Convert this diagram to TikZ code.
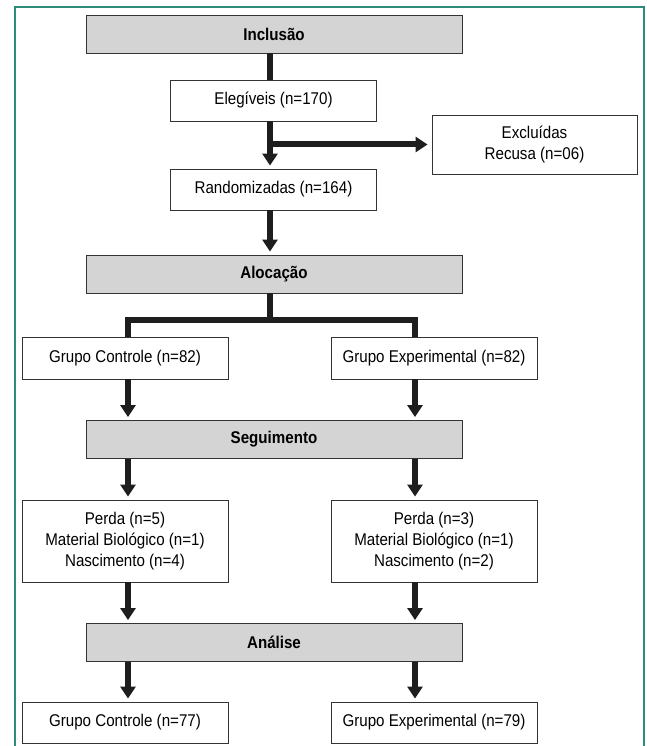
\documentclass[tikz,border=0pt]{standalone}
\usepackage{fontspec}
\setmainfont{Liberation Sans}[FakeStretch=0.89]
\usetikzlibrary{arrows.meta, positioning, calc}
\definecolor{frameteal}{RGB}{46, 139, 122}
\definecolor{stagegray}{RGB}{212, 212, 212}
\definecolor{flowblack}{RGB}{30, 30, 30}

\begin{document}
\begin{tikzpicture}[x=1pt, y=-1pt,
  stage/.style={draw=black!80, fill=stagegray, line width=0.9pt, minimum width=376pt, minimum height=38pt, inner sep=0pt, font=\fontsize{17}{21}\selectfont\bfseries},
  box/.style={draw=black!80, fill=white, line width=0.9pt, minimum width=206pt, minimum height=42pt, inner sep=0pt, align=center, font=\fontsize{17}{21}\selectfont},
  flow/.style={line width=6pt, flowblack, -{Triangle[width=15pt, length=12pt]}, shorten >=3pt},
  bar/.style={line width=6pt, flowblack}]
  \useasboundingbox (0, 0) rectangle (646, 746);

  % Open frame
  \draw[frameteal, line width=2pt] (15, 746) -- (15, 7) -- (644, 7) -- (644, 746);

  % Columns of the connectors
  \coordinate (mid) at (270, 0);
  \coordinate (lcol) at (128, 0);
  \coordinate (rcol) at (415, 0);
  \coordinate (fork) at (270, 320);

  % Inclusion
  \node[stage] (incl) at (274, 34) {Inclusão};
  \node[box, minimum height=41pt] (eleg) at (273.5, 100.5) {Elegíveis (n=170)};
  \node[box, minimum width=205pt, minimum height=59pt] (excl) at (534.5, 144.5) {Excluídas\\Recusa (n=06)};
  \node[box, minimum height=41pt] (rand) at (273.5, 189.5) {Randomizadas (n=164)};

  % Allocation
  \node[stage] (aloc) at (274, 274) {Alocação};
  \node[box] (gc1) at (125, 358) {Grupo Controle (n=82)};
  \node[box] (ge1) at (434, 358) {Grupo Experimental (n=82)};

  % Follow-up
  \node[stage] (seg) at (274, 439.5) {Seguimento};
  \node[box, minimum height=82pt] (pl) at (125, 541) {Perda (n=5)\\Material Biológico (n=1)\\Nascimento (n=4)};
  \node[box, minimum height=82pt] (pr) at (434, 541) {Perda (n=3)\\Material Biológico (n=1)\\Nascimento (n=2)};

  % Analysis
  \node[stage] (ana) at (274, 642.5) {Análise};
  \node[box, minimum height=41pt] (gc2) at (125, 722.5) {Grupo Controle (n=77)};
  \node[box, minimum height=41pt] (ge2) at (434, 722.5) {Grupo Experimental (n=79)};

  % Connectors
  \draw[bar] (incl.south -| mid) -- (eleg.north -| mid);
  \draw[flow] (eleg.south -| mid) -- (rand.north -| mid);
  \draw[flow, shorten >=4pt] (mid |- excl.west) -- (excl.west);
  \draw[flow] (rand.south -| mid) -- (aloc.north -| mid);

  \draw[bar] (aloc.south -| fork) -- (fork);
  \draw[bar] (gc1.north -| lcol) |- (fork) -| (ge1.north -| rcol);

  \draw[flow] (gc1.south -| lcol) -- (seg.north -| lcol);
  \draw[flow] (ge1.south -| rcol) -- (seg.north -| rcol);
  \draw[flow] (seg.south -| lcol) -- (pl.north -| lcol);
  \draw[flow] (seg.south -| rcol) -- (pr.north -| rcol);
  \draw[flow] (pl.south -| lcol) -- (ana.north -| lcol);
  \draw[flow] (pr.south -| rcol) -- (ana.north -| rcol);
  \draw[flow] (ana.south -| lcol) -- (gc2.north -| lcol);
  \draw[flow] (ana.south -| rcol) -- (ge2.north -| rcol);
\end{tikzpicture}
\end{document}
